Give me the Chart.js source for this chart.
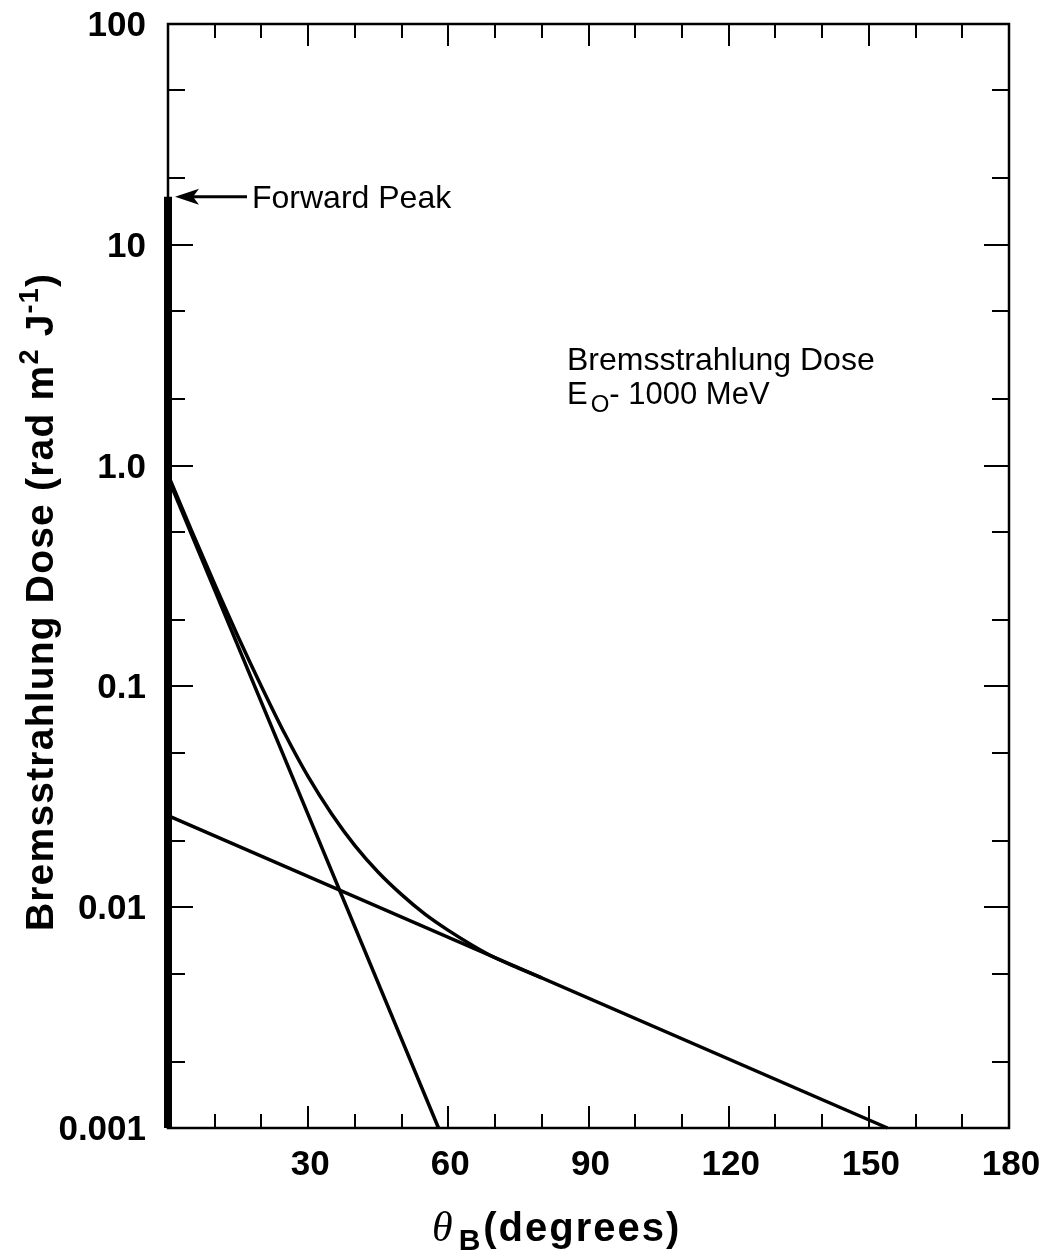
<!DOCTYPE html>
<html>
<head>
<meta charset="utf-8">
<script src="https://cdn.jsdelivr.net/npm/chart.js@4.4.1/dist/chart.umd.min.js"></script>
<style>
html, body { margin: 0; padding: 0; background: #fff; }
</style>
</head>
<body>
<canvas id="myChart" width="1046" height="1254"></canvas>
<script>
'use strict';
// axis ticks
var xMajorTicks = [30, 60, 90, 120, 150, 180];
var xMinorTicks = [10, 20, 40, 50, 70, 80, 100, 110, 130, 140, 160, 170];
var yMajorTicks = [100, 10, 1, 0.1, 0.01, 0.001];
var yTickLabels = ['100', '10', '1.0', '0.1', '0.01', '0.001'];
var yMinorTicks = [50, 20, 5, 2, 0.5, 0.2, 0.05, 0.02, 0.005, 0.002];

// series (angle in degrees, dose in rad m2 J-1)
var peakAngle = [0, 0];
var peakDose = [0.001, 16.5];
var steepAngle = [0, 57.9];
var steepDose = [0.88, 0.001];
var shallowAngle = [0, 154];
var shallowDose = [0.026, 0.001];
var totalAngle = [0, 5, 10, 15, 20, 25, 30, 35, 40, 45, 50, 55, 60, 65, 70, 75, 80];
var totalDose = [0.91, 0.51, 0.29, 0.168, 0.1, 0.061, 0.039, 0.0265, 0.019, 0.0144, 0.0114, 0.0093, 0.00785, 0.00675, 0.0059, 0.0053, 0.00478];

var FONT = '"Liberation Sans", Arial, Helvetica, sans-serif';

function toPoints(xs, ys) {
  let res = [];
  for (let i = 0; i < xs.length; i++) {
    res.push({x: xs[i], y: ys[i]});
  }
  return res;
}

function lineSet(data, width) {
  return {
    data: data,
    borderColor: '#000',
    borderWidth: width,
    pointRadius: 0,
    fill: false,
    borderCapStyle: 'butt',
    clip: false
  };
}

var axesPlugin = {
  id: 'axesPlugin',
  afterDatasetsDraw: function (chart) {
    let ctx = chart.ctx;
    let xs = chart.scales.x, ys = chart.scales.y;
    let a = chart.chartArea;
    ctx.save();
    ctx.strokeStyle = '#000';
    ctx.fillStyle = '#000';
    ctx.lineWidth = 2.5;
    ctx.strokeRect(a.left, a.top, a.right - a.left, a.bottom - a.top);

    // ticks on all four sides, pointing in
    ctx.lineWidth = 2;
    let drawX = (v, len) => {
      let px = Math.round(xs.getPixelForValue(v));
      ctx.beginPath();
      ctx.moveTo(px, a.bottom); ctx.lineTo(px, a.bottom - len);
      ctx.moveTo(px, a.top); ctx.lineTo(px, a.top + len);
      ctx.stroke();
    };
    let drawY = (v, len) => {
      let py = Math.round(ys.getPixelForValue(v));
      ctx.beginPath();
      ctx.moveTo(a.left, py); ctx.lineTo(a.left + len, py);
      ctx.moveTo(a.right, py); ctx.lineTo(a.right - len, py);
      ctx.stroke();
    };
    xMajorTicks.forEach(v => drawX(v, 22));
    xMinorTicks.forEach(v => drawX(v, 14));
    yMajorTicks.forEach(v => drawY(v, 25));
    yMinorTicks.forEach(v => drawY(v, 17));

    // tick labels
    ctx.font = 'bold 35px ' + FONT;
    ctx.textAlign = 'center';
    ctx.textBaseline = 'alphabetic';
    xMajorTicks.forEach(v => {
      ctx.fillText(String(v), xs.getPixelForValue(v) + 2, a.bottom + 47);
    });
    ctx.textAlign = 'right';
    yMajorTicks.forEach((v, i) => {
      ctx.fillText(yTickLabels[i], a.left - 22, ys.getPixelForValue(v) + 12);
    });

    // x title: theta_B (degrees)
    ctx.textAlign = 'left';
    let bx = 432, by = a.bottom + 113;
    ctx.font = 'italic 42px "Liberation Serif", "DejaVu Serif", serif';
    ctx.fillText('\u03b8', bx, by);
    bx += ctx.measureText('\u03b8').width + 6;
    ctx.font = 'bold 30px ' + FONT;
    ctx.fillText('B', bx, by + 9);
    bx += ctx.measureText('B').width + 3;
    ctx.font = 'bold 40px ' + FONT;
    ctx.letterSpacing = '2px';
    ctx.fillText('(degrees)', bx, by);
    ctx.letterSpacing = '0px';

    // y title, rotated
    let parts = [
      {t: 'Bremsstrahlung Dose (rad m', f: 'bold 39px ' + FONT, dy: 0},
      {t: '2', f: 'bold 27px ' + FONT, dy: -15},
      {t: ' J', f: 'bold 39px ' + FONT, dy: 0},
      {t: '-1', f: 'bold 27px ' + FONT, dy: -15},
      {t: ')', f: 'bold 39px ' + FONT, dy: 0}
    ];
    ctx.letterSpacing = '1.2px';
    let total = 0;
    parts.forEach(p => { ctx.font = p.f; total += ctx.measureText(p.t).width; });
    ctx.translate(53, 602);
    ctx.rotate(-Math.PI / 2);
    let cx = -total / 2;
    parts.forEach(p => {
      ctx.font = p.f;
      ctx.fillText(p.t, cx, p.dy);
      cx += ctx.measureText(p.t).width;
    });
    ctx.setTransform(1, 0, 0, 1, 0, 0);
    ctx.letterSpacing = '0px';

    // Forward Peak arrow and label
    let tipX = xs.getPixelForValue(0) + 7;
    let tipY = ys.getPixelForValue(peakDose[1]);
    ctx.lineWidth = 3;
    ctx.beginPath();
    ctx.moveTo(tipX + 10, tipY); ctx.lineTo(tipX + 72, tipY);
    ctx.stroke();
    ctx.beginPath();
    ctx.moveTo(tipX, tipY);
    ctx.lineTo(tipX + 24, tipY - 8);
    ctx.lineTo(tipX + 18, tipY);
    ctx.lineTo(tipX + 24, tipY + 8);
    ctx.closePath();
    ctx.fill();
    ctx.font = '32px ' + FONT;
    ctx.textAlign = 'left';
    ctx.fillText('Forward Peak', 252, tipY + 11);

    // annotation
    ctx.font = '32px ' + FONT;
    ctx.fillText('Bremsstrahlung Dose', 567, 370);
    ctx.font = '31px ' + FONT;
    ctx.fillText('E', 567, 404);
    let ex = 567 + ctx.measureText('E').width + 3;
    ctx.font = '24px ' + FONT;
    ctx.fillText('O', ex, 412);
    ex += ctx.measureText('O').width;
    ctx.font = '31px ' + FONT;
    ctx.fillText('- 1000 MeV', ex, 404);
    ctx.restore();
  }
};

new Chart(document.getElementById('myChart').getContext('2d'), {
  type: 'line',
  data: {
    datasets: [
      lineSet(toPoints(peakAngle, peakDose), 8),
      lineSet(toPoints(steepAngle, steepDose), 3.5),
      lineSet(toPoints(shallowAngle, shallowDose), 3.5),
      Object.assign(lineSet(toPoints(totalAngle, totalDose), 3.5), {cubicInterpolationMode: 'monotone'})
    ]
  },
  options: {
    responsive: false,
    animation: false,
    devicePixelRatio: 1,
    layout: {padding: {left: 168, right: 37, top: 24, bottom: 126}},
    plugins: {legend: {display: false}, tooltip: {enabled: false}},
    scales: {
      x: {type: 'linear', min: 0, max: 180, display: false},
      y: {type: 'logarithmic', min: 0.001, max: 100, display: false}
    }
  },
  plugins: [axesPlugin]
});
</script>
</body>
</html>
